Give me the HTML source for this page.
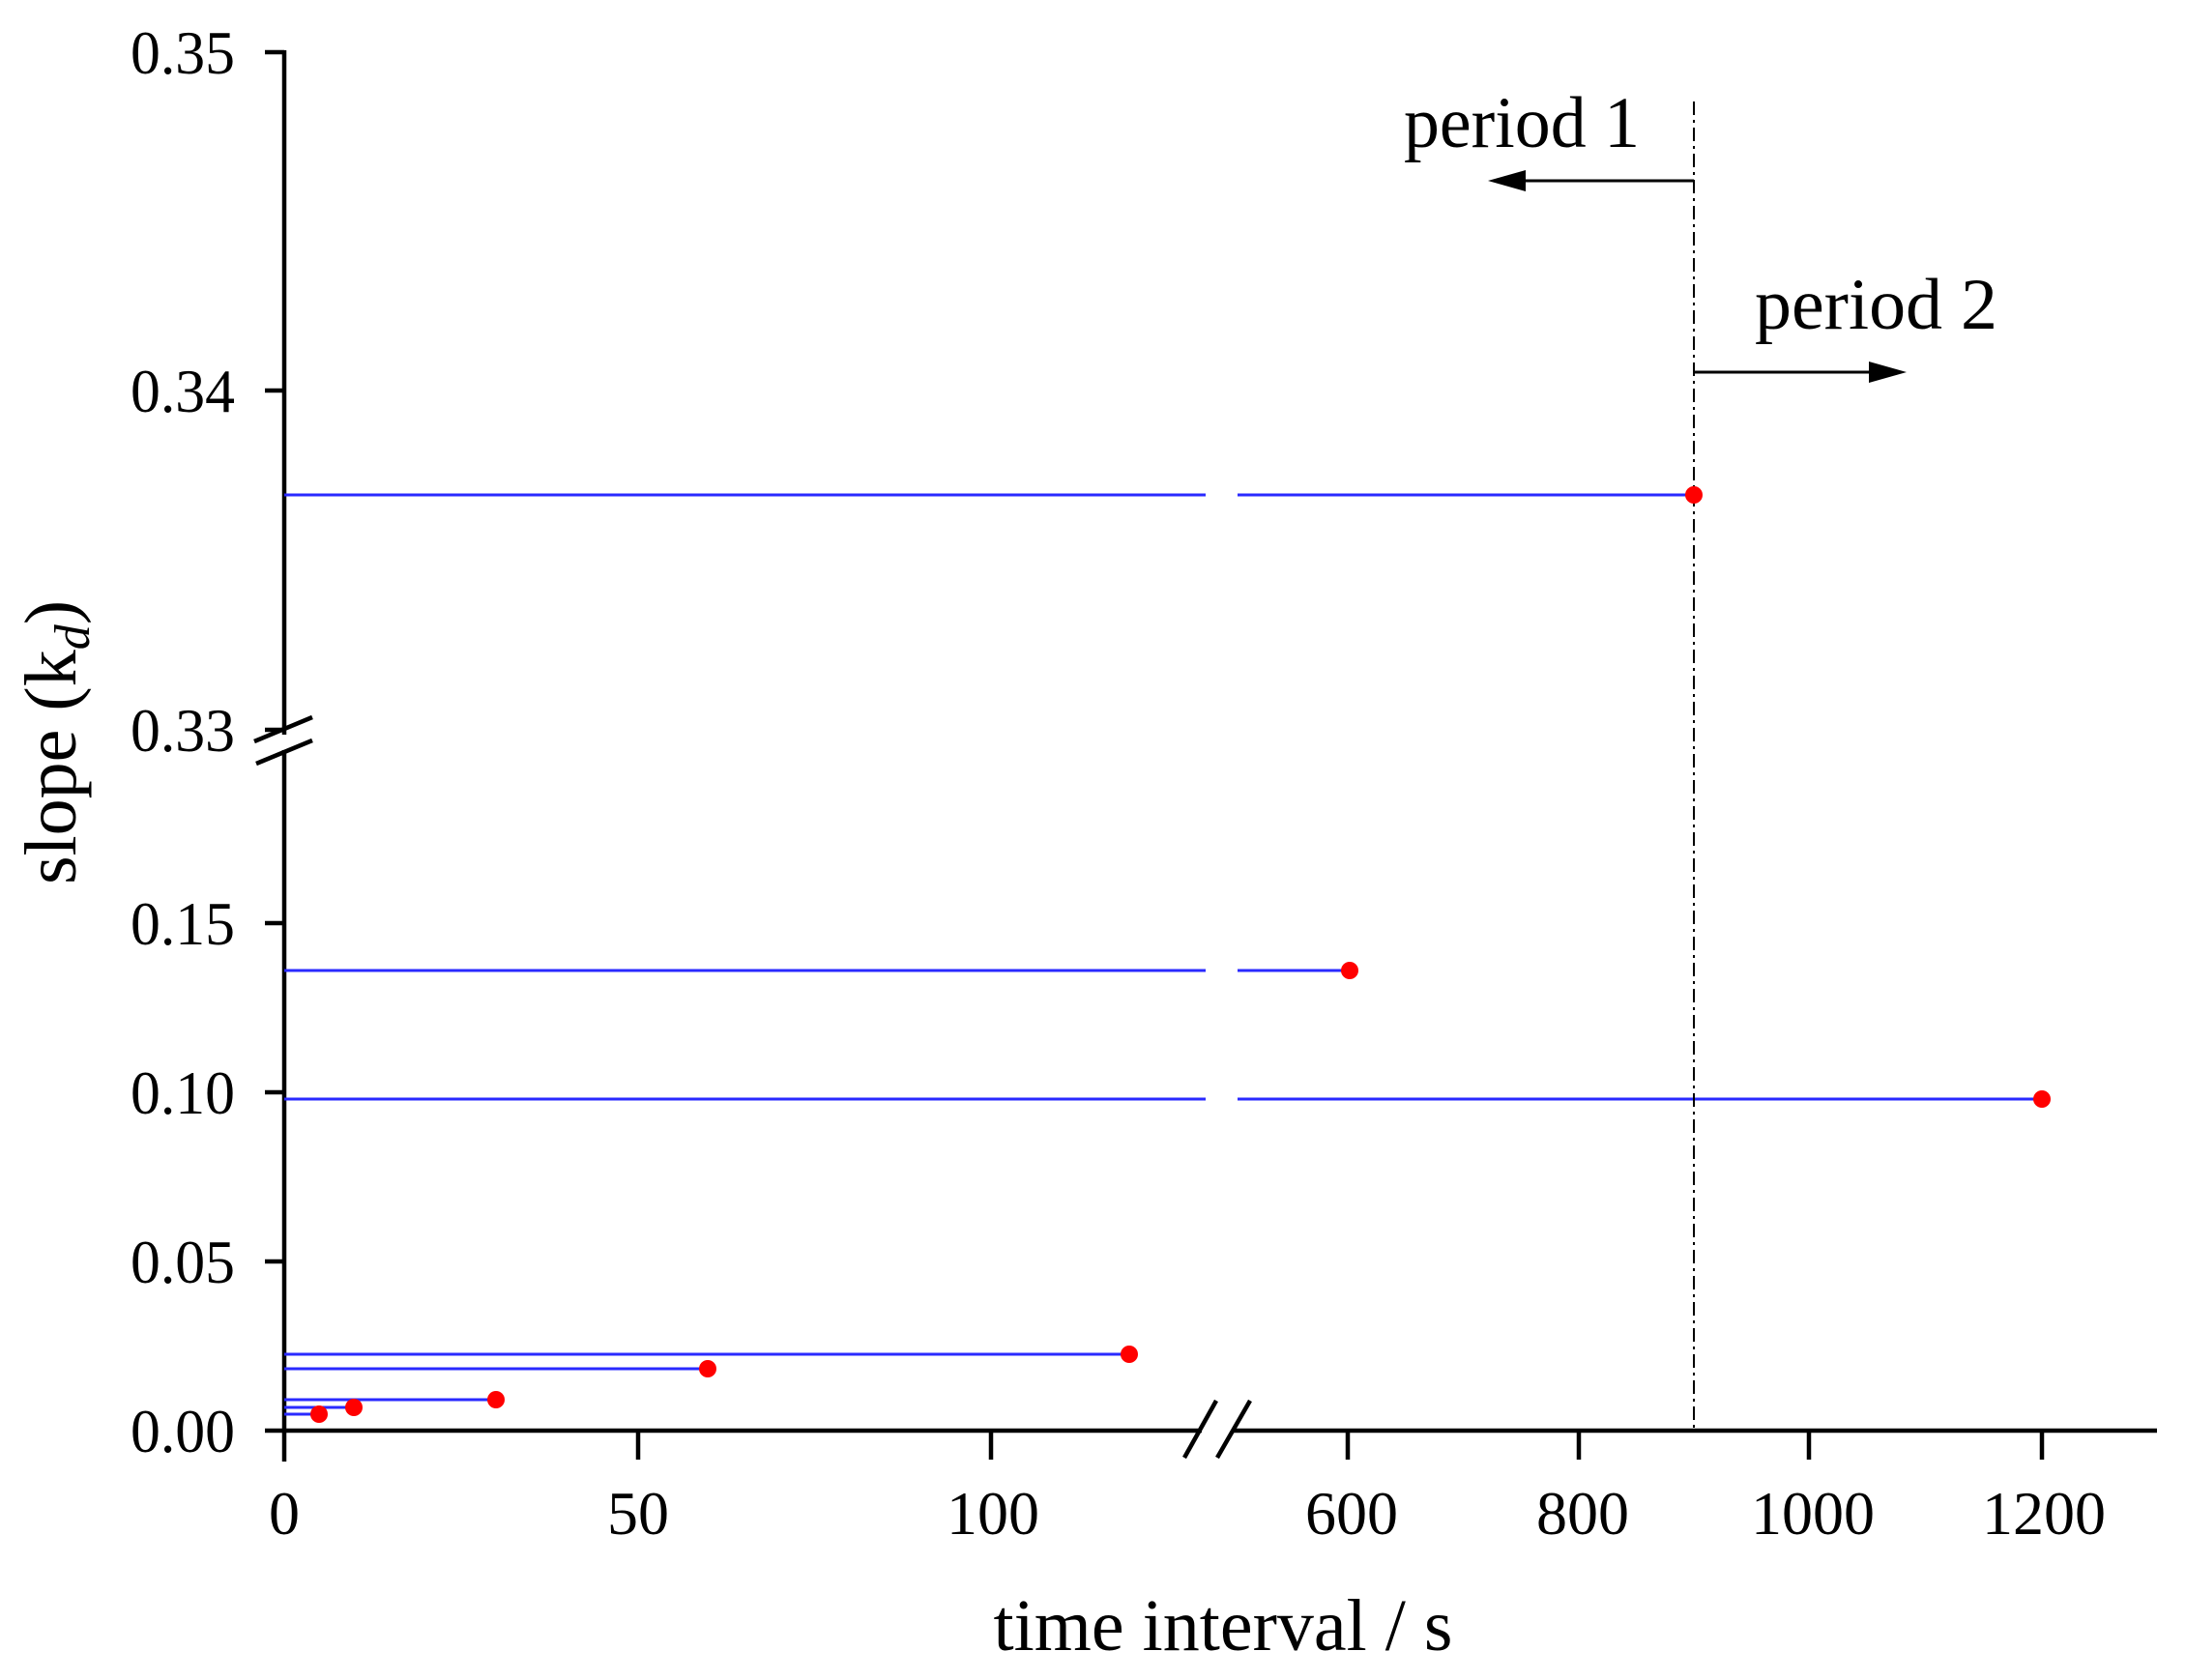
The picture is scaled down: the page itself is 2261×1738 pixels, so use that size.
<!DOCTYPE html>
<html><head><style>html,body{margin:0;padding:0;background:#fff}</style></head><body>
<svg width="2261" height="1733" viewBox="0 0 2261 1733" xmlns="http://www.w3.org/2000/svg" font-family="Liberation Serif, serif">
<g stroke="#000" stroke-width="4.5" fill="none">
<line x1="294" y1="52" x2="294" y2="760"/>
<line x1="294" y1="776" x2="294" y2="1512"/>
<line x1="292" y1="1480" x2="1243" y2="1480"/>
<line x1="1274" y1="1480" x2="2231" y2="1480"/>
<line x1="1225" y1="1508" x2="1258" y2="1449"/>
<line x1="1259" y1="1508" x2="1293" y2="1449"/>
<line x1="263" y1="767" x2="323" y2="742"/>
<line x1="265" y1="790" x2="323" y2="766"/>
<line x1="274" y1="54" x2="294" y2="54"/>
<line x1="274" y1="404" x2="294" y2="404"/>
<line x1="274" y1="755" x2="294" y2="755"/>
<line x1="274" y1="955" x2="294" y2="955"/>
<line x1="274" y1="1130" x2="294" y2="1130"/>
<line x1="274" y1="1305" x2="294" y2="1305"/>
<line x1="274" y1="1480" x2="294" y2="1480"/>
<line x1="660" y1="1480" x2="660" y2="1510"/>
<line x1="1025" y1="1480" x2="1025" y2="1510"/>
<line x1="1394" y1="1480" x2="1394" y2="1510"/>
<line x1="1633" y1="1480" x2="1633" y2="1510"/>
<line x1="1871" y1="1480" x2="1871" y2="1510"/>
<line x1="2112" y1="1480" x2="2112" y2="1510"/>
</g>
<g font-size="64" text-anchor="end" fill="#000">
<text x="243" y="76" textLength="108" lengthAdjust="spacingAndGlyphs">0.35</text>
<text x="243" y="426" textLength="108" lengthAdjust="spacingAndGlyphs">0.34</text>
<text x="243" y="777" textLength="108" lengthAdjust="spacingAndGlyphs">0.33</text>
<text x="243" y="977" textLength="108" lengthAdjust="spacingAndGlyphs">0.15</text>
<text x="243" y="1152" textLength="108" lengthAdjust="spacingAndGlyphs">0.10</text>
<text x="243" y="1327" textLength="108" lengthAdjust="spacingAndGlyphs">0.05</text>
<text x="243" y="1502" textLength="108" lengthAdjust="spacingAndGlyphs">0.00</text>
</g>
<g font-size="64" text-anchor="middle" fill="#000">
<text x="294" y="1587">0</text>
<text x="660" y="1587">50</text>
<text x="1027" y="1587">100</text>
<text x="1398" y="1587">600</text>
<text x="1637" y="1587">800</text>
<text x="1875" y="1587">1000</text>
<text x="2114" y="1587">1200</text>
</g>
<text x="1265" y="1707" font-size="76" text-anchor="middle">time interval / s</text>
<text transform="translate(78,768) rotate(-90)" font-size="76" text-anchor="middle">slope (k<tspan font-style="italic" font-size="52" dy="14">d</tspan><tspan dy="-14">)</tspan></text>
<g stroke="#2a2aff" stroke-width="3">
<line x1="294" y1="512" x2="1247" y2="512"/><line x1="1280" y1="512" x2="1752" y2="512"/>
<line x1="294" y1="1004" x2="1247" y2="1004"/><line x1="1280" y1="1004" x2="1396" y2="1004"/>
<line x1="294" y1="1137" x2="1247" y2="1137"/><line x1="1280" y1="1137" x2="2112" y2="1137"/>
<line x1="294" y1="1401" x2="1168" y2="1401"/>
<line x1="294" y1="1416" x2="732" y2="1416"/>
<line x1="294" y1="1448" x2="513" y2="1448"/>
<line x1="294" y1="1456" x2="366" y2="1456"/>
<line x1="294" y1="1463" x2="330" y2="1463"/>
</g>
<line x1="1752" y1="105" x2="1752" y2="1480" stroke="#000" stroke-width="2" stroke-dasharray="14,5,3,5"/>
<g fill="#f00">
<circle cx="1752" cy="512" r="9"/><circle cx="1396" cy="1004" r="9"/><circle cx="2112" cy="1137" r="9"/>
<circle cx="1168" cy="1401" r="9"/><circle cx="732" cy="1416" r="9"/><circle cx="513" cy="1448" r="9"/>
<circle cx="366" cy="1456" r="9"/><circle cx="330" cy="1463" r="9"/>
</g>
<g stroke="#000" stroke-width="3">
<line x1="1752" y1="187" x2="1570" y2="187"/>
<line x1="1752" y1="385" x2="1940" y2="385"/>
</g>
<polygon points="1539,187 1578,176 1578,198" fill="#000"/>
<polygon points="1972,385 1933,374 1933,396" fill="#000"/>
<text x="1452" y="152" font-size="75" textLength="244" lengthAdjust="spacingAndGlyphs">period 1</text>
<text x="1815" y="340" font-size="75" textLength="251" lengthAdjust="spacingAndGlyphs">period 2</text>
</svg>
</body></html>
